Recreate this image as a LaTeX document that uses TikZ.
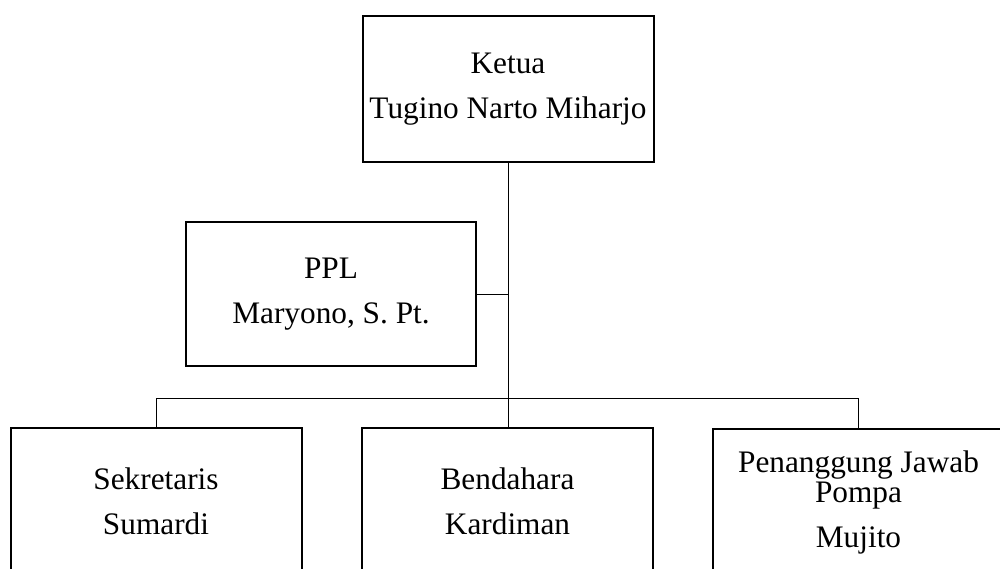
\documentclass[tikz,border=0pt]{standalone}
\usepackage{fontspec}
\setmainfont{Liberation Serif}
\begin{document}
\begin{tikzpicture}[x=1pt,y=-1pt,
  box/.style={draw=black, line width=2pt, minimum width=291pt, minimum height=146pt,
    inner sep=0pt, align=center, font=\fontsize{31.3pt}{45pt}\selectfont},
  conn/.style={draw=black, line width=1pt}]
\path[use as bounding box] (0,0) rectangle (1000,568);
\clip (0,0) rectangle (1000,568);
\node[box] (ketua) at (508,89) {Ketua\\Tugino Narto Miharjo};
\node[box, minimum width=290pt, minimum height=144pt] (ppl) at (331,294) {PPL\\Maryono, S. Pt.};
\node[box] (sek) at (156,501) {Sekretaris\\Sumardi};
\node[box] (bend) at (507.5,501) {Bendahara\\Kardiman};
\node[box] (pj) at (858.5,502) {Penanggung Jawab\\[-15pt]Pompa\\Mujito};
\coordinate (j) at (507.5,398);
\draw[conn] (ketua.south) -- (ketua.south |- bend.north);
\draw[conn] (ppl.east) -- (ppl.east -| ketua.south);
\draw[conn] (sek.north) -- (sek.north |- j) -| (pj.north);
\end{tikzpicture}
\end{document}
